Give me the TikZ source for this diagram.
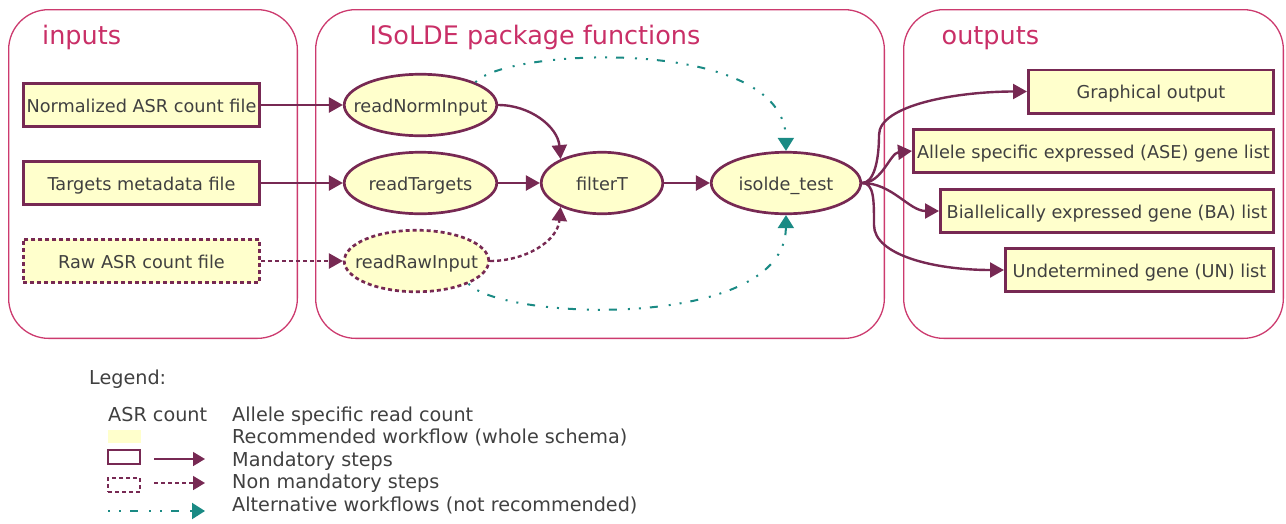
\documentclass[tikz,border=0pt]{standalone}
\usepackage{fontspec}
\setmainfont{DejaVu Sans}
\usetikzlibrary{arrows.meta,shapes.geometric}
\definecolor{crim}{HTML}{CC3A6E}
\definecolor{titlec}{HTML}{C92F67}
\definecolor{aub}{HTML}{772953}
\definecolor{fillY}{HTML}{FFFFCC}
\definecolor{tealc}{HTML}{1A8A84}
\definecolor{txt}{HTML}{404040}
\tikzset{
  container/.style={draw=crim, line width=1.3pt, rounded corners=40pt, inner sep=0pt},
  titletext/.style={text=titlec, font=\fontsize{25.5}{30}\selectfont, inner sep=0pt, anchor=base west},
  boxnode/.style={draw=aub, fill=fillY, line width=2.7pt, inner sep=0pt, text=txt,
    font=\fontsize{17.7}{21}\selectfont, text height=14pt, text depth=0pt, minimum height=43.3pt},
  ovalnode/.style={ellipse, draw=aub, fill=fillY, line width=2.7pt, inner sep=0pt, text=txt,
    font=\fontsize{17.7}{21}\selectfont, text height=14pt, text depth=0pt, minimum height=61.5pt},
  nonmand/.style={dash pattern=on 4pt off 3pt},
  flow/.style={draw=aub, line width=2.4pt, -{Triangle[length=14pt,width=15pt]}},
  legflow/.style={draw=aub, line width=1.6pt, -{Triangle[length=12pt,width=14pt]}},
  altflow/.style={draw=tealc, line width=2pt, dash pattern=on 2pt off 9pt on 2pt off 9pt on 8pt off 11pt,
    -{Triangle[length=13pt,width=16pt]}},
  legtext/.style={text=txt, font=\fontsize{19.2}{23}\selectfont, inner sep=0pt, anchor=base west}
}
\begin{document}
\begin{tikzpicture}[x=1pt,y=1pt]
\useasboundingbox (0,0) rectangle (1286,-523);
% containers
\node[container, minimum width=288.7pt, minimum height=328.7pt] (cin) at (153,-174) {};
\node[container, minimum width=568.7pt, minimum height=328.7pt] (cfun) at (600,-174) {};
\node[container, minimum width=379.7pt, minimum height=328.7pt] (cout) at (1093.5,-174) {};
\node[titletext] (tin) at (42,-44) {inputs};
\node[titletext] (tfun) at (369.5,-44) {ISoLDE package functions};
\node[titletext] (tout) at (941.5,-44) {outputs};
% inputs
\node[boxnode, minimum width=236.3pt] (ni) at (141.5,-105) {Normalized ASR count file};
\node[boxnode, minimum width=236.3pt] (ti) at (141.5,-183) {Targets metadata file};
\node[boxnode, minimum width=236.3pt, nonmand] (ri) at (141.5,-261) {Raw ASR count file};
% functions
\node[ovalnode, minimum width=152.5pt] (rn) at (420.5,-105) {\makebox[0pt]{readNormInput}};
\node[ovalnode, minimum width=152.5pt] (rt) at (420.5,-183) {\makebox[0pt]{readTargets}};
\node[ovalnode, minimum width=144.5pt, nonmand] (rr) at (416.5,-261) {\makebox[0pt]{readRawInput}};
\node[ovalnode, minimum width=121.5pt] (ft) at (602,-183) {\makebox[0pt]{filterT}};
\node[ovalnode, minimum width=149.5pt] (iso) at (786,-183) {\makebox[0pt]{isolde\_test}};
% outputs
\node[boxnode, minimum width=245.3pt] (go) at (1151,-91.5) {Graphical output};
\node[boxnode, minimum width=360.3pt] (ase) at (1093.5,-151) {Allele specific expressed (ASE) gene list};
\node[boxnode, minimum width=333.3pt] (ba) at (1107,-211) {Biallelically expressed gene (BA) list};
\node[boxnode, minimum width=268.3pt] (un) at (1139.5,-270) {Undetermined gene (UN) list};
% connectors
\draw[flow] (ni.east) -- (rn.west);
\draw[flow] (ti.east) -- (rt.west);
\draw[flow, nonmand] (ri.east) -- (rr.west);
\draw[flow] (rn.east) to[out=0,in=95] (ft.150);
\draw[flow] (rt.east) -- (ft.west);
\draw[flow, nonmand] (rr.east) to[out=0,in=-95] (ft.-150);
\draw[flow] (ft.east) -- (iso.west);
\draw[altflow] (rn.north east) .. controls (505,-48) and (785,-35) .. (iso.north);
\draw[altflow] (rr.south east) .. controls (500,-320) and (785,-332) .. (iso.south);
\draw[flow] (iso.east) .. controls +(12,0) and +(0,-25) .. (879,-135) .. controls +(0,30) and +(-70,0) .. (go.west);
\draw[flow] (iso.east) .. controls +(20,0) and +(-22,-2) .. (ase.west);
\draw[flow] (iso.east) .. controls +(30,0) and +(-30,0) .. (ba.west);
\draw[flow] (iso.east) .. controls +(12,0) and +(0,25) .. (874,-225) .. controls +(0,-30) and +(-70,0) .. (un.west);
% legend
\node[legtext] (lgt) at (89,-384) {Legend:};
\node[legtext] (lasr) at (108,-421) {ASR count};
\node[legtext] (lasrd) at (232,-421) {Allele specific read count};
\node[fill=fillY, minimum width=33pt, minimum height=13pt, inner sep=0pt] (lrec) at (124.5,-436.5) {};
\node[legtext] (lrecd) at (232,-443.5) {Recommended workflow (whole schema)};
\node[draw=aub, line width=2pt, minimum width=32pt, minimum height=14pt, inner sep=0pt] (lman) at (124,-457) {};
\coordinate (lma) at (154,-459);
\coordinate (lmb) at (205,-459);
\draw[legflow] (lma) -- (lmb);
\node[legtext] (lmand) at (232,-466) {Mandatory steps};
\node[draw=aub, line width=2pt, nonmand, minimum width=32pt, minimum height=14pt, inner sep=0pt] (lnon) at (124,-485) {};
\coordinate (lna) at (154,-483);
\coordinate (lnb) at (205,-483);
\draw[legflow, nonmand] (lna) -- (lnb);
\node[legtext] (lnond) at (232,-488.5) {Non mandatory steps};
\coordinate (laa) at (108,-511);
\coordinate (lab) at (205,-511);
\draw[altflow] (laa) -- (lab);
\node[legtext] (laltd) at (232,-511) {Alternative workflows (not recommended)};
\end{tikzpicture}
\end{document}
